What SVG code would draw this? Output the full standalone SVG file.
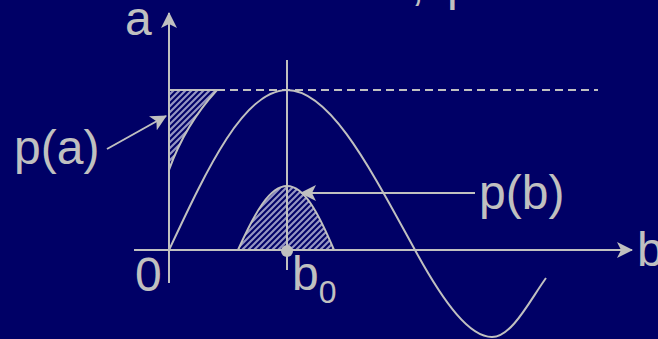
<svg xmlns="http://www.w3.org/2000/svg" width="658" height="339" viewBox="0 0 658 339">
<style>
.ln{stroke:#c0c0c0;stroke-width:2;fill:none}
.tx{font-family:"Liberation Sans",Arial,sans-serif;fill:#c0c0c0;font-size:48px}
.sh{fill:url(#hatch);stroke:#c0c0c0;stroke-width:2}
</style>
<defs>
<pattern id="hatch" patternUnits="userSpaceOnUse" width="6" height="6">
<rect width="6" height="6" fill="#000066"/>
<path d="M-1,7 L7,-1 M-4,4 L4,-4 M2,10 L10,2" stroke="#9595c2" stroke-width="2.2"/>
</pattern>
<marker id="ah" markerUnits="userSpaceOnUse" viewBox="0 0 16 16" refX="15" refY="8" markerWidth="16" markerHeight="16" orient="auto">
<path d="M0,0 L16,8 L0,16 L4,8 Z" fill="#c0c0c0"/>
</marker>
</defs>
<rect width="658" height="339" fill="#000066"/>
<text class="tx"><tspan x="411" y="0">,</tspan><tspan x="447" y="0">p</tspan></text>
<g id="pa-shape"><path class="sh" d="M169,90 L217,90 Q185,125 169,170 Z"/></g>
<g id="pb-shape"><path class="sh" d="M238,250 C255,212 270,186 287,186 C304,186 318,212 334,250 Z"/></g>
<g id="axis-a"><line class="ln" x1="169" y1="283" x2="169" y2="13" marker-end="url(#ah)"/><text class="tx" x="125" y="35">a</text></g>
<g id="axis-b"><line class="ln" x1="134" y1="250" x2="632" y2="250" marker-end="url(#ah)"/><text class="tx" x="637" y="266">b</text></g>
<g id="origin"><text class="tx" x="135" y="291">0</text></g>
<g id="b0"><line class="ln" x1="287" y1="60" x2="287" y2="270"/><circle cx="287" cy="251" r="6" fill="#c0c0c0"/><text class="tx" x="292" y="290">b<tspan font-size="32" dy="13">0</tspan></text></g>
<g id="max-line"><line class="ln" x1="217" y1="90" x2="598" y2="90" stroke-dasharray="8 5"/></g>
<g id="curve"><path class="ln" d="M169,250 C207.5,168 244,90 287,90 C330,90 370,168 415,250 C445,305 470,337 492,337 C512,337 530,300 546,278"/></g>
<g id="label-pa"><text class="tx" x="14" y="164">p(a)</text></g>
<g id="label-pb"><text class="tx" x="479" y="209">p(b)</text></g>
<g id="connectors">
<line class="ln" x1="107" y1="149" x2="166" y2="116" marker-end="url(#ah)"/>
<line class="ln" x1="475" y1="193" x2="301" y2="193" marker-end="url(#ah)"/>
</g>
</svg>
